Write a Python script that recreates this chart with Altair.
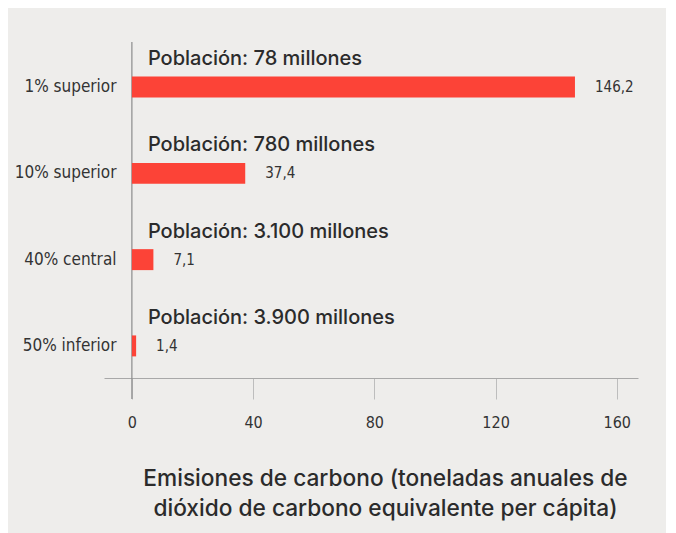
import altair as alt
import pandas as pd

categories = ["1% superior", "10% superior", "40% central", "50% inferior"]
emissions = [146.2, 37.4, 7.1, 1.4]
population = ["Población: 78 millones", "Población: 780 millones",
              "Población: 3.100 millones", "Población: 3.900 millones"]
x_ticks = [0, 40, 80, 120, 160]
x_title = ["Emisiones de carbono (toneladas anuales de",
           "dióxido de carbono equivalente per cápita)"]

df = pd.DataFrame({"cat": categories, "v": emissions, "pop": population})

COND = "DejaVu Sans Condensed, Roboto, sans-serif"
GEO = "Inter, Lato, Noto Sans, sans-serif"
RED = "#fc4337"
BG = "#eeedeb"

xscale = alt.Scale(domain=[-9.2, 167], nice=False, zero=False)
yscale = alt.Scale(domain=categories, paddingInner=0.757, paddingOuter=0.378)

base = alt.Chart(df)

bars = base.mark_bar(color=RED).encode(
    x=alt.X("v:Q", scale=xscale,
            axis=alt.Axis(values=x_ticks, title=x_title, grid=False,
                          domainColor="#a8a8a8", tickColor="#bdbdbd", tickSize=21,
                          labelFont=COND, labelFontSize=16, labelColor="#333",
                          labelPadding=15, offset=-11,
                          titleFont=GEO, titleFontSize=22.7, titleFontWeight=500,
                          titleColor="#2b2b2b", titleLineHeight=30.5,
                          titleX=281, titleY=89, titleAnchor="middle",
                          titleAlign="center")),
    x2=alt.datum(0),
    y=alt.Y("cat:N", scale=yscale, sort=categories,
            axis=alt.Axis(title=None, domain=False, ticks=False, offset=-28,
                          labelPadding=16, labelFont=COND, labelFontSize=17,
                          labelColor="#333")),
)

vals = base.transform_calculate(
    lab="replace(format(datum.v, '.1f'), '.', ',')"
).mark_text(align="left", baseline="middle", dx=20, font=COND,
            fontSize=15, color="#333").encode(
    x="v:Q", y=alt.Y("cat:N", sort=categories), text="lab:N")

pops = base.mark_text(align="left", baseline="middle", dx=16, dy=-28, font=GEO,
                      fontSize=20, fontWeight=500, color="#2b2b2b").encode(
    x=alt.datum(0), y=alt.Y("cat:N", sort=categories), text="pop:N")

vline = alt.Chart(pd.DataFrame({"x0": [0]})).mark_rule(
    color="#8c8c8c", strokeWidth=1.2).encode(
    x="x0:Q", y=alt.value(-2), y2=alt.value(355))

chart = alt.layer(vline, bars, vals, pops).properties(
    width=534, height=345,
    background=BG,
    padding={"left": 96, "top": 36, "right": 28, "bottom": 144},
    autosize=alt.AutoSizeParams(type="none"),
).configure_view(stroke=None)

chart.save("out.html", embed_options={"renderer": "svg", "actions": False})
